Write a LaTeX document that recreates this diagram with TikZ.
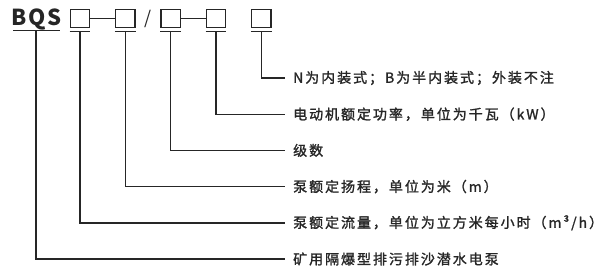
\documentclass[tikz,border=0pt]{standalone}
\usepackage{fontspec}
\usepackage{tikz}
\usetikzlibrary{positioning}
\setmainfont{Noto Sans CJK SC}
\newfontfamily\descfont[LetterSpace=14, FakeBold=1.5]{Noto Sans CJK SC}
\newfontfamily\codefont[LetterSpace=7]{Noto Sans CJK SC}
\definecolor{ink}{rgb}{0.15,0.15,0.15}

\begin{document}
\begin{tikzpicture}[
    x=1pt, y=-1pt,
    node distance=24.5pt,
    codebox/.style={rectangle, draw=ink, line width=1.3pt, minimum width=19.5pt, minimum height=18pt, inner sep=0pt},
    desc/.style={anchor=west, inner sep=0pt, text=ink, font=\descfont\fontsize{14pt}{16pt}\selectfont},
    lead/.style={draw=ink, line width=1.4pt}
]
    \useasboundingbox (0,0) rectangle (615,276);

    \node[anchor=base west, inner sep=0pt, text=ink, font=\codefont\bfseries\fontsize{22pt}{24pt}\selectfont] (bqs) at (11.5,25.5) {BQS};
    \node[codebox] (b1) at (80,18.5) {};
    \node[codebox, right=of b1] (b2) {};
    \node[codebox, right=of b2] (b3) {};
    \node[codebox, right=of b3] (b4) {};
    \node[codebox, right=of b4] (b5) {};
    \path (b2.east) -- node[inner sep=0pt, text=ink, font=\codefont\fontsize{18pt}{20pt}\selectfont] (slash) {/} (b3.west);

    \node[desc] (l1) at (293,78) {N为内装式；B为半内装式；外装不注};
    \node[desc] (l2) at (293,114.2) {电动机额定功率，单位为千瓦（kW）};
    \node[desc] (l3) at (293,150.4) {级数};
    \node[desc] (l4) at (293,186.6) {泵额定扬程，单位为米（m）};
    \node[desc] (l5) at (293,222.8) {泵额定流量，单位为立方米每小时（m³/h）};
    \node[desc] (l6) at (293,259) {矿用隔爆型排污排沙潜水电泵};

    % dashes between the boxes
    \path[lead] (b1) -- (b2);
    \path[lead] (b3) -- (b4);

    % underlines
    \path[lead] (13,30.5) coordinate (u0) -- (60,30.5);
    \foreach \b in {b1,b2,b3,b4,b5}
        \path[lead] ([yshift=-3.5pt]\b.south west) -- ([yshift=-3.5pt]\b.south east);

    % leads down to the texts
    \path[lead] ([xshift=23pt]u0) |- ([xshift=-8pt]l6.west);
    \path[lead] ([yshift=-3.5pt]b1.south) |- ([xshift=-8pt]l5.west);
    \path[lead] ([yshift=-3.5pt]b2.south) |- ([xshift=-8pt]l4.west);
    \path[lead] ([yshift=-3.5pt]b3.south) |- ([xshift=-8pt]l3.west);
    \path[lead] ([yshift=-3.5pt]b4.south) |- ([xshift=-8pt]l2.west);
    \path[lead] ([yshift=-3.5pt]b5.south) |- ([xshift=-8pt]l1.west);
\end{tikzpicture}
\end{document}
